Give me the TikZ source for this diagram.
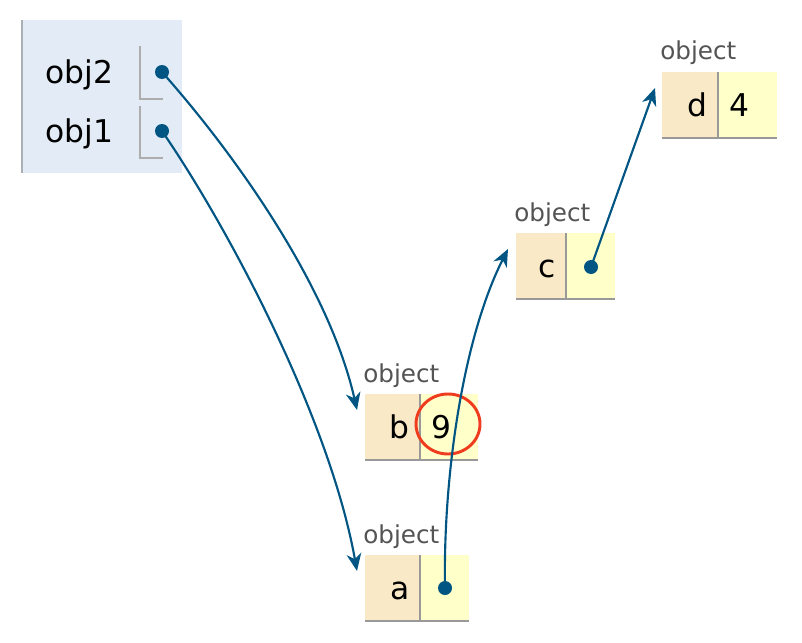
\documentclass[tikz,border=0pt]{standalone}
\usepackage{fontspec}
\setmainfont{DejaVu Sans}
\usetikzlibrary{arrows.meta}

\definecolor{framebg}{HTML}{E2EBF6}
\definecolor{framebar}{HTML}{AAB0B4}
\definecolor{keybg}{HTML}{FAE9C6}
\definecolor{valbg}{HTML}{FFFFCA}
\definecolor{ptr}{HTML}{005583}
\definecolor{rulegray}{HTML}{999999}
\definecolor{hilite}{HTML}{F03C1E}

\tikzset{
  lbl/.style={font=\fontsize{18.5}{18.5}\selectfont, text=black!67, inner sep=0pt, anchor=base west},
  txt/.style={font=\fontsize{23.5}{23.5}\selectfont, inner sep=0pt},
  cellrule/.style={rulegray, line width=2.2pt},
  slotrule/.style={rulegray!80, line width=1.5pt},
  ptrline/.style={ptr, line width=1.6pt, -{Stealth[length=13pt,width=11pt,inset=4pt]}},
}

\begin{document}
\begin{tikzpicture}[x=0.75pt,y=-0.75pt]
    \useasboundingbox (0,0) rectangle (802,642);

    % Frame
    \fill[framebg] (22,20) rectangle (182,173);
    \draw[framebar, line width=1.6pt] (22,20) -- (22,173);
    \node[txt, anchor=base west] (obj2) at (45,84) {obj2};
    \node[txt, anchor=base west] (obj1) at (45,142) {obj1};
    \draw[slotrule] (140,46) |- (163,99);
    \draw[slotrule] (140,106) |- (163,158);
    \coordinate (p2) at (162,72);
    \coordinate (p1) at (162,131);

    % Objects
    \foreach \n/\x/\y/\kw/\vw/\k/\v in {b/365/394/55/58/b/9, a/365/555/55/49/a/{}, c/516/233/50/49/c/{}, d/662/72/56/59/d/4} {
      \fill[keybg] (\x,\y) rectangle ++(\kw,67);
      \fill[valbg] (\x+\kw,\y) rectangle ++(\vw,67);
      \draw[cellrule] (\x+\kw,\y) -- ++(0,67);
      \draw[cellrule] (\x,\y+66) -- ++(\kw+\vw,0);
      \node[lbl] (\n-lbl) at (\x-2,\y-12) {object};
      \node[txt, anchor=base east] (\n-key) at (\x+\kw-10,\y+44) {\k};
      \node[txt, anchor=base west] (\n-val) at (\x+\kw+11,\y+44) {\v};
    }

    % Highlight
    \draw[hilite, line width=2.2pt] (448,424) ellipse (32 and 30);

    % Pointers
    \coordinate (adot) at (445,588);
    \coordinate (cdot) at (591,267);
    \coordinate (bin) at (357,410);
    \coordinate (ain) at (357,571);
    \coordinate (cin) at (508,249);
    \coordinate (din) at (655,88);

    \draw[ptrline] (p2) .. controls (240,160) and (330,290) .. (bin);
    \draw[ptrline] (p1) .. controls (230,230) and (330,420) .. (ain);
    \draw[ptrline] (adot) .. controls (443,480) and (462,340) .. (cin);
    \draw[ptrline] (cdot) -- (din);
    \foreach \p in {p2,p1,adot,cdot}
      \fill[ptr] (\p) circle (7);
  \end{tikzpicture}
\end{document}
